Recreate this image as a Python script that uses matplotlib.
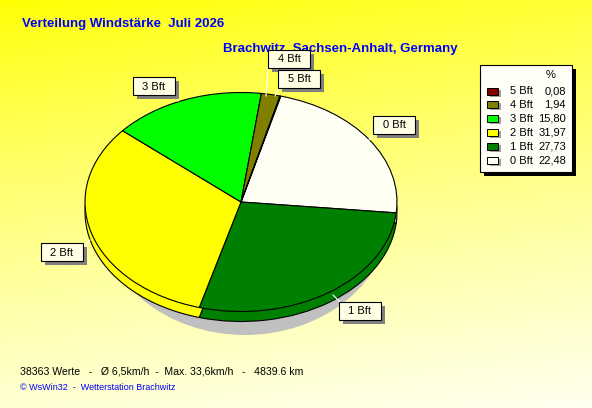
import numpy as np
import matplotlib
matplotlib.use("Agg")
import matplotlib.pyplot as plt
from matplotlib.patches import Rectangle, Ellipse

# ── Daten ──
klassen = ["5 Bft", "4 Bft", "3 Bft", "2 Bft", "1 Bft", "0 Bft"]
prozent = [0.08, 1.94, 15.80, 31.97, 27.73, 22.48]
farben = ["#800000", "#808000", "#00FF00", "#FFFF00", "#008000", "#FFFFF4"]
prozent_txt = ["0,08", "1,94", "15,80", "31,97", "27,73", "22,48"]

titel = "Verteilung Windstärke  Juli 2026"
ort = "Brachwitz, Sachsen-Anhalt, Germany"
info = "38363 Werte   -   Ø 6,5km/h  -  Max. 33,6km/h   -   4839.6 km"
copy_txt = "© WsWin32  -  Wetterstation Brachwitz"

# Label-Kästen (links, oben) in Pixel, Leitlinie (x0,y0,x1,y1)
label_box = {
    "4 Bft": (268, 50, (268, 67, 266, 96)),
    "5 Bft": (278, 70, (279, 88, 275, 96)),
    "3 Bft": (133, 77, (176, 95, 178, 101)),
    "0 Bft": (373, 116, (374, 134, 368, 141)),
    "2 Bft": (41, 243, (83, 246, 90, 240)),
    "1 Bft": (339, 302, (340, 302, 333, 295)),
}

W, H = 592, 408
plt.rcParams['font.family'] = ['Liberation Sans', 'DejaVu Sans']
fig = plt.figure(figsize=(W / 100, H / 100), dpi=100)

# ── Hintergrund mit Verlauf ──
ax_bg = fig.add_axes([0, 0, 1, 1], zorder=0)
ax_bg.set_xlim(0, W)
ax_bg.set_ylim(H, 0)
ax_bg.axis("off")
yy = np.linspace(0, 1, 200)[:, None]
xx = np.linspace(0, 1, 200)[None, :]
t = np.clip(0.85 * yy + 0.15 * xx, 0, 1)
grad = np.zeros((200, 200, 3))
grad[..., 0] = 1.0
grad[..., 1] = 1.0
grad[..., 2] = (240 * t ** 0.8) / 255.0
ax_bg.imshow(grad, extent=[0, W, H, 0], aspect="auto", zorder=0)
# Schatten unter der Torte
ax_bg.add_patch(Ellipse((245, 214), 290, 242, facecolor="#C0C0C0", edgecolor="none", zorder=1))

# ── Torte (Seite + Oberfläche) ──
cx, cy, rx, ry, tiefe = 241, 202, 156, 109.5, 10
start = -5.7 + prozent[-1] * 3.6


def torte(dy, z):
    ax = fig.add_axes([(cx - rx) / W, 1 - (cy + ry + dy) / H, 2 * rx / W, 2 * ry / H], zorder=z)
    ax.pie(prozent[::-1], colors=farben[::-1], startangle=start, counterclock=False,
           wedgeprops=dict(edgecolor="black", linewidth=0.8))
    ax.set_aspect("auto")
    ax.set_xlim(-1, 1)
    ax.set_ylim(-1, 1)
    ax.patch.set_visible(False)
    ax.axis("off")
    return ax


torte(tiefe, 1)
torte(0, 2)

# ── Texte, Labels, Legende ──
ax = fig.add_axes([0, 0, 1, 1], zorder=3)
ax.set_xlim(0, W)
ax.set_ylim(H, 0)
ax.axis("off")
ax.patch.set_visible(False)

ax.text(22, 24, titel, color="#0000FF", fontsize=9.5, fontweight="bold", va="center", ha="left")
ax.text(223, 49, ort, color="#0000FF", fontsize=9.5, fontweight="bold", va="center", ha="left")

for name, (lx, ly, (x0, y0, x1, y1)) in label_box.items():
    ax.plot([x0, x1], [y0, y1], color="white", lw=0.8, zorder=1)
    ax.add_patch(Rectangle((lx + 4, ly + 4), 42, 18, facecolor="#808080", edgecolor="none", zorder=2))
    ax.add_patch(Rectangle((lx, ly), 42, 18, facecolor="#FFFFE6", edgecolor="black", lw=0.8, zorder=3))
    ax.text(lx + 21, ly + 9.5, name, fontsize=8, ha="center", va="center", zorder=4)

# Legende
ax.add_patch(Rectangle((484, 69), 92, 107, facecolor="black", edgecolor="none", zorder=2))
ax.add_patch(Rectangle((480, 65), 92, 107, facecolor="#FFFFF8", edgecolor="black", lw=0.8, zorder=3))
ax.text(551, 75, "%", fontsize=8, ha="center", va="center", zorder=4)
for i, (k, f, p) in enumerate(zip(klassen, farben, prozent_txt)):
    y = 91 + i * 13.9
    ax.add_patch(Rectangle((489.5, y - 1.5), 11, 7, facecolor="#A0A0A0", edgecolor="none", zorder=4))
    ax.add_patch(Rectangle((487, y - 3.5), 11, 7, facecolor=f, edgecolor="black", lw=0.7, zorder=5))
    ax.text(510, y, k, fontsize=8, ha="left", va="center", zorder=5)
    ax.text(566, y, p, fontsize=8, ha="right", va="center", zorder=5)

ax.text(20, 371, info, fontsize=7.6, ha="left", va="center")
ax.text(20, 387, copy_txt, fontsize=6.5, color="#0000FF", ha="left", va="center")

fig.savefig("out.png", dpi=100)
